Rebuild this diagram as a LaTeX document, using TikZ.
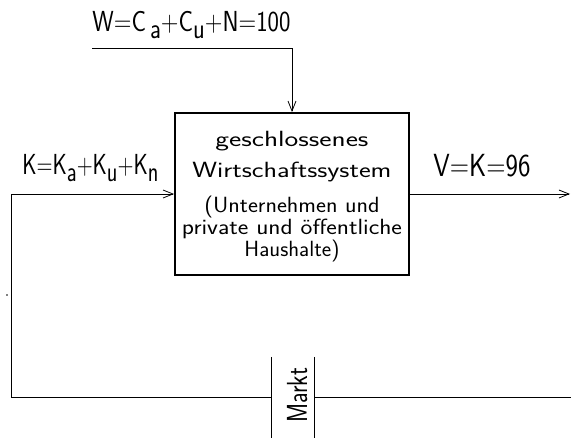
\documentclass[tikz,border=0pt]{standalone}
\usepackage{fontspec}
\usetikzlibrary{arrows.meta}
\newcommand\fw[2]{\resizebox{#1}{\height}{#2}}
\newcommand\sbs[1]{\raisebox{-0.22em}{#1}}
\begin{document}
\begin{tikzpicture}[x=1pt,y=-1pt, line width=0.8pt,
  >={Straight Barb[length=10pt,width=8pt]},
  lbl/.style={inner sep=0pt, font=\sffamily\fontsize{29}{29}\selectfont},
  biglbl/.style={inner sep=0pt, font=\sffamily\fontsize{32}{32}\selectfont},
  sysbox/.style={draw, line width=1.8pt, minimum width=234pt, minimum height=162pt,
    inner sep=0pt, align=center, font=\sffamily\fontsize{22}{22}\selectfont},
  bar/.style={line width=0.8pt}]
\useasboundingbox (0,0) rectangle (571,438);
\node[sysbox] (sys) at (292,194) {\rule{0pt}{21.5pt}\fw{153pt}{geschlossenes}\\[9pt]
  \fw{199pt}{Wirtschaftssystem}\\[13pt]
  \fw{175pt}{(Unternehmen und}\\
  \fw{220pt}{private und öffentliche}\\
  \fw{95pt}{Haushalte)}};
\coordinate (wstart) at (92,48);
\coordinate (loopc) at (11,397);
\coordinate (m1t) at (271,357);
\coordinate (m1b) at (271,438);
\coordinate (m2t) at (314,357);
\coordinate (m2b) at (314,438);
\coordinate (rend) at (571,397);
\coordinate (vend) at (570,194);
\draw[->] (wstart) -| (sys.north);
\draw[->] (loopc) |- (sys.west);
\draw (loopc) -- (loopc -| m1t);
\draw[bar] (m1t) -- (m1b);
\draw[bar] (m2t) -- (m2b);
\draw (m2t |- rend) -- (rend);
\draw[->] (sys.east) -- (vend);
\node[lbl, anchor=base west] (wl) at (92,32) {\fw{198pt}{W=C\,\sbs{a}+C\sbs{u}+N=100}};
\node[lbl, anchor=base west] (kl) at (22,175) {\fw{136pt}{K=K\sbs{a}+K\sbs{u}+K\sbs{n}}};
\node[biglbl, anchor=base west] (vl) at (433,177) {\fw{97pt}{V=K=96}};
\node[lbl, rotate=90, anchor=base west] (markt) at (307,423) {\fw{55pt}{Markt}};
\fill (7,295) circle (0.8pt);
\end{tikzpicture}
\end{document}
